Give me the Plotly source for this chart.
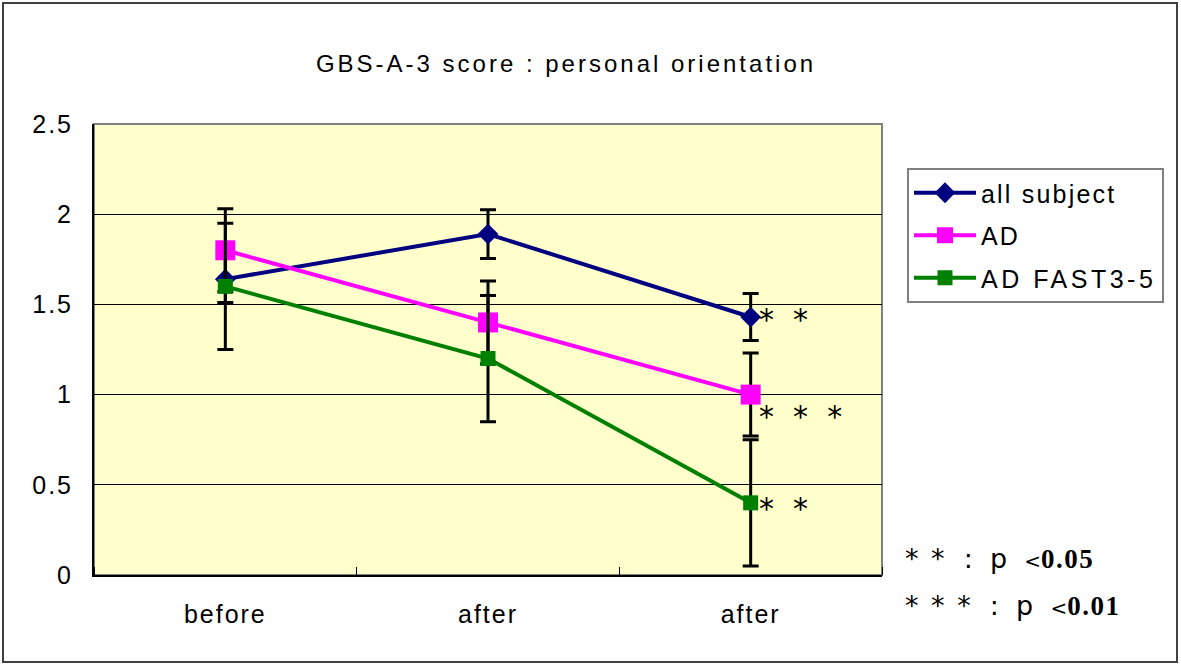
import plotly.graph_objects as go

categories = ["before", "after", "after"]
x_pos = [0, 1, 2]

all_subject = [1.64, 1.89, 1.43]
all_subject_err = [0.13, 0.135, 0.13]
ad = [1.80, 1.40, 1.00]
ad_err = [0.23, 0.23, 0.23]
ad_fast = [1.60, 1.20, 0.40]
ad_fast_err = [0.35, 0.35, 0.35]

sig_labels = ["*  *", "*  *  *", "*  *"]
sig_y = [1.43, 0.89, 0.38]

FONT = "Liberation Sans, Arial, sans-serif"


def ls(text, px=2):
    return f"<span style='letter-spacing:{px}px'>{text}</span>"


fig = go.Figure()

series = [
    ("all subject", all_subject, all_subject_err, "#000080", "diamond", 16, 2.2),
    ("AD", ad, ad_err, "#FF00FF", "square", 20, 2.2),
    ("AD FAST3-5", ad_fast, ad_fast_err, "#008000", "square", 15, 3.5),
]
for name, vals, errs, col, sym, sz, sp in series:
    fig.add_trace(go.Scatter(
        x=x_pos, y=vals, name=ls(name, sp), mode="lines+markers",
        legendgroup=name,
        line=dict(color=col, width=4),
        marker=dict(symbol=sym, size=sz, color=col),
        error_y=dict(type="data", array=errs, visible=True,
                     color="black", thickness=3, width=8),
    ))

# significance marks
for lab, yv in zip(sig_labels, sig_y):
    fig.add_annotation(x=2, y=yv, text=lab, xref="x", yref="y",
                       showarrow=False, xanchor="left", xshift=6, yshift=-2,
                       font=dict(size=30, family="DejaVu Sans", color="black"))

# p-value legend text
pv_rows = [("* *", "0.05", 558), ("* * *", "0.01", 605)]
for stars, pv, ypx in pv_rows:
    fig.add_annotation(
        xref="paper", yref="paper", x=(903 - 94) / 788, y=(575 - ypx) / 451,
        xanchor="left", yanchor="middle", showarrow=False,
        text=(f"<span style='letter-spacing:2px'>{stars}</span>  :  p  "
              f"<span style='font-size:20px'>&lt;</span>"
              f"<span style='font-family:Liberation Serif;letter-spacing:1.5px'><b>{pv}</b></span>"),
        font=dict(size=27, family="DejaVu Sans", color="black"))

# plot area frame (gray top/right) and outer border
fig.add_shape(type="rect", xref="paper", yref="paper", x0=0, x1=1, y0=0, y1=1,
              line=dict(color="#808080", width=2), layer="below")
fig.add_shape(type="rect", xref="paper", yref="paper",
              x0=(3 - 94) / 788, x1=(1177 - 94) / 788,
              y0=(575 - 662) / 451, y1=(575 - 3) / 451,
              line=dict(color="#404040", width=2), layer="below")

fig.update_layout(
    width=1181, height=664,
    margin=dict(l=94, r=299, t=124, b=89),
    paper_bgcolor="white",
    plot_bgcolor="#FFFFCC",
    font=dict(family=FONT, size=25, color="black"),
    title=dict(text=ls("GBS-A-3 score : personal orientation", 3), x=566 / 1181, xanchor="center",
               xref="container", y=1 - 64 / 664, yanchor="middle", yref="container",
               font=dict(size=24, family=FONT, color="black")),
    showlegend=True,
    legend=dict(x=(907 - 94) / 788, y=(575 - 168) / 451, xanchor="left", yanchor="top",
                bgcolor="white", bordercolor="#808080", borderwidth=2,
                font=dict(size=25, family=FONT, color="black"),
                tracegroupgap=7, itemwidth=62),
    xaxis=dict(range=[-0.5, 2.5], tickvals=x_pos, ticktext=[ls(c) for c in categories],
               showgrid=False, zeroline=False, showline=True, linecolor="black", linewidth=2,
               ticks="", ticklabelstandoff=16,
               minor=dict(tick0=0.5, dtick=1, ticks="inside", ticklen=8,
                          tickcolor="black", tickwidth=1, showgrid=False)),
    yaxis=dict(range=[0, 2.5], tickvals=[0, 0.5, 1, 1.5, 2, 2.5],
               ticktext=[ls(t) for t in ["0", "0.5", "1", "1.5", "2", "2.5"]],
               showgrid=True, gridcolor="black", gridwidth=1,
               zeroline=False, showline=True, linecolor="black", linewidth=2,
               ticks="", ticklabelstandoff=14),
)

fig.write_html("out.html", config={"displayModeBar": False},
               post_script="document.body.style.margin='0';")
